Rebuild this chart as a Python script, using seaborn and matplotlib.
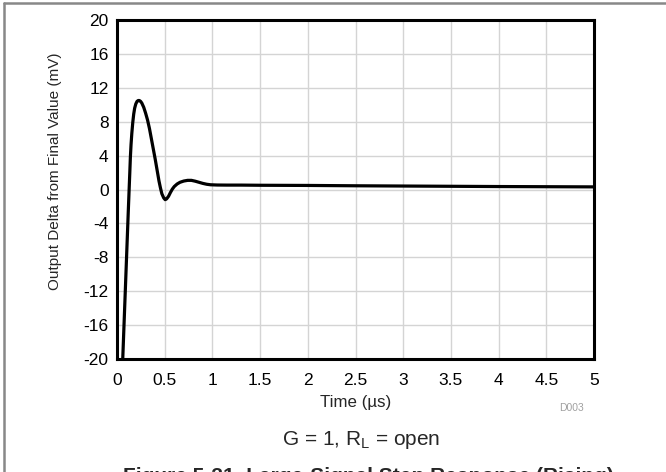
import numpy as np
import pandas as pd
import seaborn as sns
import matplotlib.pyplot as plt
from matplotlib.lines import Line2D

# step response (time in us, delta in mV)
time_us = [0.060, 0.075, 0.090, 0.105, 0.118, 0.127, 0.134, 0.140, 0.147, 0.155,
           0.165, 0.175, 0.185, 0.197, 0.210, 0.222, 0.234, 0.247, 0.260, 0.280,
           0.300, 0.320, 0.340, 0.360, 0.380, 0.400, 0.420, 0.440, 0.455, 0.470,
           0.490, 0.505, 0.520, 0.540, 0.560, 0.580, 0.600,
           0.630, 0.660, 0.700, 0.740, 0.780, 0.820, 0.860, 0.900, 0.940, 0.980,
           1.050, 1.150, 1.300, 1.500, 2.000, 2.500, 3.000, 3.500, 4.000, 4.500,
           5.000]
delta_mv = [-20.0, -15.5, -11.0, -6.5, -2.6, 0.0, 2.0, 3.8, 5.3, 6.6,
            7.9, 8.9, 9.6, 10.1, 10.4, 10.5, 10.5, 10.4, 10.2, 9.7,
            9.0, 8.2, 7.2, 6.0, 4.8, 3.6, 2.3, 1.0, 0.2, -0.5,
            -1.0, -1.2, -1.1, -0.8, -0.35, 0.05, 0.35,
            0.65, 0.85, 1.0, 1.08, 1.08, 0.98, 0.85, 0.72, 0.62, 0.56,
            0.53, 0.52, 0.52, 0.5, 0.48, 0.44, 0.41, 0.38, 0.35, 0.33,
            0.31]

x_ticks = [0, 0.5, 1, 1.5, 2, 2.5, 3, 3.5, 4, 4.5, 5]
x_labels = ['0', '0.5', '1', '1.5', '2', '2.5', '3', '3.5', '4', '4.5', '5']
y_ticks = [-20, -16, -12, -8, -4, 0, 4, 8, 12, 16, 20]

df = pd.DataFrame({'t': time_us, 'v': delta_mv})

sns.set_style('white')
plt.rcParams['font.family'] = ['Liberation Sans', 'DejaVu Sans']
plt.rcParams['axes.unicode_minus'] = False

fig = plt.figure(figsize=(6.66, 4.72), dpi=100)
ax = fig.add_axes([0.1757, 0.2394, 0.7162, 0.7182])

sns.lineplot(data=df, x='t', y='v', sort=False, color='black', linewidth=2.3, ax=ax)

ax.set_xlim(0, 5)
ax.set_ylim(-20, 20)
ax.set_xticks(x_ticks)
ax.set_xticklabels(x_labels)
ax.set_yticks(y_ticks)
ax.grid(True, color='#d4d4d4', linewidth=1.0)
ax.tick_params(axis='both', labelsize=12.5, length=0, colors='black')
ax.tick_params(axis='x', pad=10)
ax.tick_params(axis='y', pad=6)
for s in ax.spines.values():
    s.set_color('black')
    s.set_linewidth(2.2)

ax.set_xlabel('Time (\u00b5s)', fontsize=12.2)
ax.set_ylabel('Output Delta from Final Value (mV)', fontsize=11)
ax.xaxis.set_label_coords(0.5, -0.105)
ax.yaxis.set_label_coords(-0.115, 0.553)

fig.text(572 / 666, 1 - 408 / 472, 'D003', color='#a0a0a0', fontsize=7.5, ha='center', va='center')
fig.text(361 / 666, 1 - 440 / 472, 'G = 1, R$_\\mathregular{L}$ = open', fontsize=15,
         ha='center', va='center')
fig.text(368 / 666, 1 - 467 / 472, 'Figure 5-31. Large-Signal Step Response (Rising)',
         fontsize=15, fontweight='bold', ha='center', va='top')

# grey frame of the source document
fig.add_artist(Line2D([4 / 666, 1], [1 - 3 / 472, 1 - 3 / 472], color='#888888', lw=1.8))
fig.add_artist(Line2D([4 / 666, 4 / 666], [0, 1 - 3 / 472], color='#888888', lw=1.8))

fig.savefig('out.png', dpi=100)
